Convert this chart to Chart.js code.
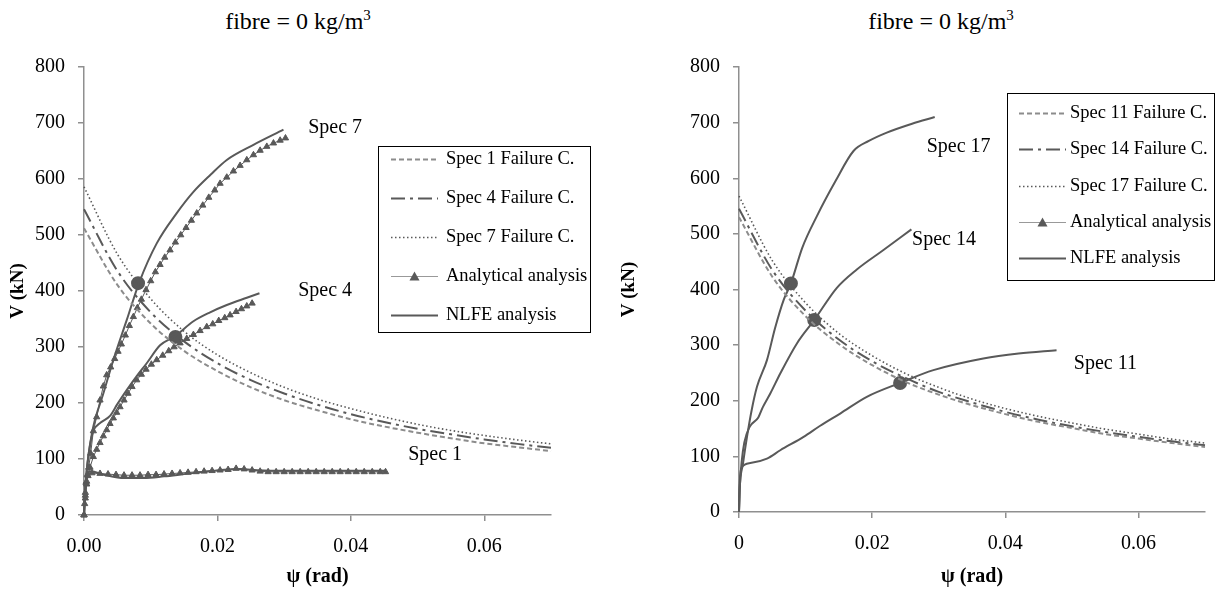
<!DOCTYPE html>
<html>
<head>
<meta charset="utf-8">
<script src="https://cdn.jsdelivr.net/npm/chart.js@4.4.1/dist/chart.umd.min.js"></script>
<style>
  body { margin: 0; background: #fff; width: 1222px; height: 592px; position: relative; overflow: hidden; }
  .pane { position: absolute; top: 0; width: 611px; height: 592px; }
  .ttl { position: absolute; top: 7px; width: 300px; text-align: center; font-family: "Liberation Serif", serif; font-size: 24px; color: #000; }
  .ttl sup { font-size: 15px; }
</style>
</head>
<body>
<div class="ttl" style="left:148px">fibre = 0 kg/m<sup>3</sup></div>
<div class="ttl" style="left:791px">fibre = 0 kg/m<sup>3</sup></div>
<div class="pane" style="left:0"><canvas id="left" width="611" height="592"></canvas></div>
<div class="pane" style="left:611px"><canvas id="right" width="611" height="592"></canvas></div>
<script>
// axis ticks
const xTicks = [0, 0.02, 0.04, 0.06];

// failure criteria (shared psi steps)
const failX = [0, 0.005, 0.01, 0.015, 0.02, 0.025, 0.03, 0.035, 0.04, 0.045, 0.05, 0.055, 0.06, 0.065, 0.07];
const fail1V  = [512, 411, 342, 293, 257, 228, 205, 187, 171, 158, 147, 137, 128, 121, 114];
const fail4V  = [546, 436, 362, 310, 271, 241, 217, 197, 180, 166, 154, 144, 135, 127, 120];
const fail7V  = [586, 466, 386, 328, 286, 254, 228, 207, 190, 175, 162, 151, 142, 134, 127];
const fail11V = [530, 423, 352, 302, 264, 234, 211, 192, 176, 162, 151, 140, 132, 124, 117];
const fail14V = [545, 435, 362, 310, 271, 241, 216, 197, 180, 166, 154, 144, 135, 127, 120];
const fail17V = [568, 452, 376, 321, 281, 249, 224, 203, 186, 172, 160, 149, 140, 131, 124];

// NLFE - left
const nl7X = [0, 0.0002, 0.0005, 0.0009, 0.0014, 0.0029, 0.0044, 0.0064, 0.0083, 0.0109, 0.0139, 0.0164, 0.019, 0.0214, 0.0254, 0.0299];
const nl7V = [0, 50, 90, 125, 158, 217, 277, 348, 416, 485, 539, 577, 608, 634, 661, 688];
const nl4X = [0, 0.0002, 0.0005, 0.0009, 0.0014, 0.0025, 0.0039, 0.005, 0.0064, 0.0079, 0.0094, 0.0114, 0.0137, 0.0164, 0.0189, 0.0214, 0.0244, 0.0263];
const nl4V = [0, 50, 90, 125, 150, 165, 177, 198, 223, 248, 271, 303, 320, 346, 362, 375, 388, 396];
const nl1X = [0, 0.0002, 0.0005, 0.001, 0.003, 0.006, 0.009, 0.012, 0.015, 0.018, 0.021, 0.0235, 0.026, 0.03, 0.035, 0.04, 0.0452];
const nl1V = [0, 45, 72, 78, 72, 66, 66, 69, 73, 77, 81, 82, 80, 79, 79, 79, 79];

// analytical - left
const an7X = [0, 0.0002, 0.0004, 0.0007, 0.001, 0.0014, 0.0019, 0.0024, 0.0029, 0.0034, 0.004, 0.0046, 0.0051, 0.0056, 0.0062, 0.0068, 0.0074, 0.008, 0.0086, 0.0093, 0.01, 0.0107, 0.0114, 0.0121, 0.0129, 0.0137, 0.0145, 0.0153, 0.0161, 0.0169, 0.0178, 0.0187, 0.0196, 0.0204, 0.0214, 0.0224, 0.0234, 0.0244, 0.0254, 0.0264, 0.0274, 0.0284, 0.0294, 0.0302];
const an7V = [0, 35, 60, 85, 110, 150, 175, 205, 230, 250, 264, 279, 292, 305, 321, 338, 354, 370, 385, 402, 418, 434, 447, 460, 473, 487, 500, 513, 526, 539, 553, 567, 580, 592, 603, 614, 624, 634, 643, 651, 658, 664, 669, 673];
const an4X = [0, 0.0002, 0.0004, 0.0006, 0.0009, 0.0014, 0.0019, 0.0024, 0.0029, 0.0034, 0.0039, 0.0044, 0.0049, 0.0054, 0.006, 0.0066, 0.0072, 0.0079, 0.0086, 0.0093, 0.0101, 0.0109, 0.0118, 0.0127, 0.0135, 0.0144, 0.0154, 0.0164, 0.0174, 0.0184, 0.0193, 0.0202, 0.0211, 0.0219, 0.0228, 0.0236, 0.0244, 0.0252];
const an4V = [0, 30, 55, 70, 85, 104, 117, 129, 141, 152, 163, 173, 183, 193, 205, 217, 229, 241, 251, 260, 269, 277, 285, 293, 300, 307, 315, 322, 329, 336, 341, 347, 352, 357, 363, 368, 373, 378];
const an1X = [0, 0.0001, 0.0002, 0.0003, 0.0005, 0.0012, 0.0024, 0.0036, 0.0048, 0.006, 0.0072, 0.0084, 0.0096, 0.0108, 0.012, 0.0132, 0.0144, 0.0156, 0.0168, 0.018, 0.0192, 0.0204, 0.0216, 0.0228, 0.024, 0.0252, 0.0264, 0.0276, 0.0288, 0.03, 0.0312, 0.0324, 0.0336, 0.0348, 0.036, 0.0372, 0.0384, 0.0396, 0.0408, 0.042, 0.0432, 0.0444, 0.0452];
const an1V = [0, 20, 40, 58, 72, 75, 74, 73, 72, 71, 71, 71, 72, 72, 73, 74, 75, 76, 77, 78, 79, 80, 81, 83, 82, 80, 78, 77, 77, 77, 77, 77, 77, 77, 77, 77, 77, 77, 77, 77, 77, 77, 77];

// NLFE - right
const nl17X = [0, 0.0001, 0.0006, 0.0012, 0.0019, 0.0027, 0.0042, 0.0054, 0.0067, 0.0078, 0.0095, 0.0117, 0.0145, 0.0172, 0.0195, 0.0222, 0.026, 0.0294];
const nl17V = [0, 40, 87, 135, 183, 225, 273, 330, 381, 411, 475, 532, 595, 649, 667, 682, 698, 710];
const nl14X = [0, 0.0001, 0.0004, 0.0008, 0.0016, 0.0029, 0.0036, 0.0047, 0.0062, 0.0087, 0.0113, 0.0147, 0.0177, 0.0217, 0.0259];
const nl14V = [0, 40, 90, 125, 153, 170, 189, 213, 249, 303, 345, 403, 436, 471, 508];
const nl11X = [0, 0.0001, 0.0004, 0.0017, 0.0042, 0.0062, 0.0097, 0.0122, 0.0152, 0.0192, 0.0242, 0.0292, 0.0367, 0.042, 0.0477];
const nl11V = [0, 50, 80, 88, 96, 111, 135, 155, 177, 207, 232, 255, 276, 285, 291];

// intersection points
const critLX = [0.0081, 0.0137];
const critLV = [414, 318];
const critRX = [0.0078, 0.0113, 0.0242];
const critRV = [411, 345, 232];

// curve name labels
const tagsL = ['Spec 7', 'Spec 4', 'Spec 1'];
const tagsLX = [0.0336, 0.0321, 0.0486];
const tagsLV = [691, 400, 107];
const tagsR = ['Spec 17', 'Spec 14', 'Spec 11'];
const tagsRX = [0.0282, 0.026, 0.0503];
const tagsRV = [657, 489, 266];

const GREY = '#595959', LIGHT = '#8c8c8c', AXIS = '#8f8f8f';
const serif = '"Liberation Serif", "Times New Roman", serif';
Chart.defaults.font.family = serif;
Chart.defaults.color = '#000';

const pts = (xs, vs) => xs.map((x, i) => ({ x: x, y: vs[i] }));

function curve(label, xs, vs, extra) {
  return Object.assign({
    label: label, data: pts(xs, vs), showLine: true, pointRadius: 0,
    borderColor: GREY, backgroundColor: GREY, borderWidth: 2,
    cubicInterpolationMode: 'monotone', clip: false
  }, extra);
}
const dashed = { borderColor: LIGHT, backgroundColor: LIGHT, borderDash: [5, 3] };
const dashDot = { borderDash: [14, 5, 3, 5] };
const dotted = { borderDash: [1.5, 2.5], borderWidth: 1.6 };
const tri = { pointStyle: 'triangle', pointRadius: 3.6, borderWidth: 1, cubicInterpolationMode: 'default', tension: 0, legendColor: '#999' };
const nlfe = { borderWidth: 2 };
const dots = { showLine: false, pointRadius: 6, pointStyle: 'circle' };

function axes(yW, xH, xFmt) {
  return {
    x: {
      type: 'linear', min: 0, max: 0.07,
      ticks: { callback: xFmt, font: { family: serif, size: 20 }, color: '#000', padding: 14, maxRotation: 0 },
      afterBuildTicks: s => { s.ticks = xTicks.map(v => ({ value: v })); },
      grid: { drawOnChartArea: false, tickLength: 6, color: AXIS, lineWidth: 1.5 },
      border: { color: AXIS, width: 1.5 },
      title: { display: true, text: 'ψ (rad)', color: '#000', font: { family: serif, size: 20, weight: 'bold' }, padding: { top: 0, bottom: 3 } },
      afterFit: s => { s.height = xH; }
    },
    y: {
      type: 'linear', min: 0, max: 800,
      ticks: { stepSize: 100, font: { family: serif, size: 20 }, color: '#000', padding: 13 },
      grid: { drawOnChartArea: false, tickLength: 6, color: AXIS, lineWidth: 1.5 },
      border: { color: AXIS, width: 1.5 },
      title: { display: true, text: 'V (kN)', color: '#000', font: { family: serif, size: 19, weight: 'bold' }, padding: { top: 7, bottom: 0 } },
      afterFit: s => { s.width = yW; }
    }
  };
}

const boxLegend = {
  id: 'boxLegend',
  afterDraw(chart, args, o) {
    const ctx = chart.ctx;
    ctx.save();
    ctx.strokeStyle = '#000';
    ctx.lineWidth = 1;
    ctx.setLineDash([]);
    ctx.strokeRect(o.x + 0.5, o.y + 0.5, o.w, o.h);
    ctx.font = '18.5px ' + serif;
    ctx.textBaseline = 'middle';
    ctx.fillStyle = '#000';
    o.items.forEach((idx, i) => {
      const ds = chart.data.datasets[idx];
      const y = Math.round(o.y + o.first + i * o.step) + 0.5;
      ctx.save();
      ctx.setLineDash(ds.borderDash || []);
      ctx.strokeStyle = ds.legendColor || ds.borderColor;
      ctx.lineWidth = ds.pointStyle === 'triangle' ? 1 : (ds.borderWidth || 2);
      ctx.beginPath();
      ctx.moveTo(o.x + o.l1, y);
      ctx.lineTo(o.x + o.l2, y);
      ctx.stroke();
      if (ds.pointStyle === 'triangle') {
        const cx = o.x + (o.l1 + o.l2) / 2;
        ctx.fillStyle = GREY;
        ctx.beginPath();
        ctx.moveTo(cx, y - 5);
        ctx.lineTo(cx + 5, y + 4);
        ctx.lineTo(cx - 5, y + 4);
        ctx.closePath();
        ctx.fill();
      }
      ctx.restore();
      ctx.fillText(ds.label, o.x + o.tx, y);
    });
    ctx.restore();
  }
};

const tagText = {
  id: 'tagText',
  afterDatasetsDraw(chart, args, o) {
    const ctx = chart.ctx, sx = chart.scales.x, sy = chart.scales.y;
    ctx.save();
    ctx.font = '20px ' + serif;
    ctx.fillStyle = '#000';
    ctx.textBaseline = 'middle';
    o.names.forEach((t, i) => ctx.fillText(t, sx.getPixelForValue(o.xs[i]), sy.getPixelForValue(o.vs[i])));
    ctx.restore();
  }
};

new Chart(document.getElementById('left'), {
  type: 'scatter',
  data: {
    datasets: [
      curve('Spec 1 Failure C.', failX, fail1V, dashed),
      curve('Spec 4 Failure C.', failX, fail4V, dashDot),
      curve('Spec 7 Failure C.', failX, fail7V, dotted),
      curve('Analytical analysis', an7X, an7V, tri),
      curve('NLFE analysis', nl7X, nl7V, nlfe),
      curve('Analytical analysis', an4X, an4V, tri),
      curve('NLFE analysis', nl4X, nl4V, nlfe),
      curve('Analytical analysis', an1X, an1V, tri),
      curve('NLFE analysis', nl1X, nl1V, nlfe),
      curve('crit', critLX, critLV, dots)
    ]
  },
  options: {
    responsive: false, devicePixelRatio: 1, animation: false,
    layout: { padding: { left: 0, top: 67, right: 60, bottom: 0 } },
    scales: axes(84, 77, v => v.toFixed(2)),
    plugins: {
      legend: { display: false }, tooltip: { enabled: false },
      boxLegend: { x: 378, y: 146, w: 212, h: 186, first: 13, step: 39, l1: 13, l2: 60, tx: 68, items: [0, 1, 2, 3, 4] },
      tagText: { names: tagsL, xs: tagsLX, vs: tagsLV }
    }
  },
  plugins: [boxLegend, tagText]
});

new Chart(document.getElementById('right'), {
  type: 'scatter',
  data: {
    datasets: [
      curve('Spec 11 Failure C.', failX, fail11V, dashed),
      curve('Spec 14 Failure C.', failX, fail14V, dashDot),
      curve('Spec 17 Failure C.', failX, fail17V, dotted),
      curve('Analytical analysis', [], [], tri),
      curve('NLFE analysis', nl17X, nl17V, nlfe),
      curve('NLFE analysis', nl14X, nl14V, nlfe),
      curve('NLFE analysis', nl11X, nl11V, nlfe),
      curve('crit', critRX, critRV, dots)
    ]
  },
  options: {
    responsive: false, devicePixelRatio: 1, animation: false,
    layout: { padding: { left: 0, top: 67, right: 17, bottom: 0 } },
    scales: axes(128, 80, v => v === 0 ? '0' : v.toFixed(2)),
    plugins: {
      legend: { display: false }, tooltip: { enabled: false },
      boxLegend: { x: 396, y: 93, w: 207, h: 187, first: 20, step: 36.25, l1: 12, l2: 59, tx: 63, items: [0, 1, 2, 3, 4] },
      tagText: { names: tagsR, xs: tagsRX, vs: tagsRV }
    }
  },
  plugins: [boxLegend, tagText]
});
</script>
</body>
</html>
